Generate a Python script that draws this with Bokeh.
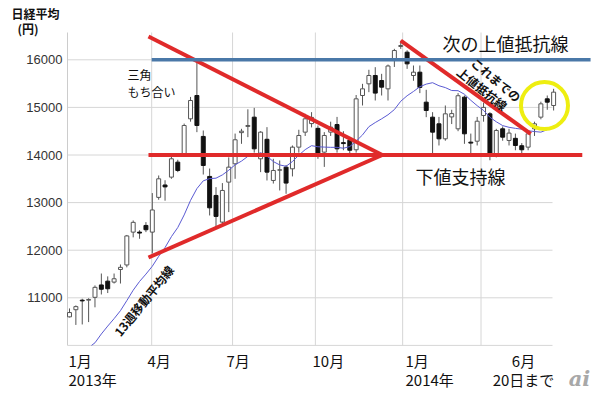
from bokeh.plotting import figure
from bokeh.models import Range1d, Label, ColumnDataSource
from bokeh.embed import file_html
from bokeh.resources import INLINE
from bokeh.core.properties import value

# ---- data: weekly Nikkei average, Jan 2013 - Jun 20, 2014 ----
opens = [10600, 10750, 10950, 10950, 11010, 11270, 11350, 11330, 11595, 11690,
         12380, 12380, 12520, 12380, 13110, 13370, 13535, 13850, 14025, 14760,
         15250, 14390, 13550, 13150, 12590, 13430, 13815, 14470, 14600, 14795,
         13920, 14330, 13465, 13680, 13745, 13710, 14165, 14480, 14660, 14560,
         14060, 14480, 14640, 14260, 14310, 14110, 15250, 15495, 15670, 15565,
         15390, 16000, 16280, 16160, 15670, 15740, 15110, 14795, 14655, 14340,
         14800, 14550, 15215, 14270, 14290, 14830, 14865, 14025, 14550, 14305,
         14350, 14195, 14165, 14550, 14795, 15180, 15040]
highs = [10776, 10840, 10980, 10990, 11260, 11510, 11450, 11510, 11700, 12320,
         12625, 12420, 12590, 13200, 13570, 13470, 14000, 13900, 14660, 15220,
         15942, 14515, 13716, 13325, 13410, 13950, 14450, 14550, 14960, 14990,
         14500, 14585, 13920, 13885, 13790, 14200, 14530, 14865, 14900, 14620,
         14480, 14700, 14800, 14500, 14380, 15260, 15495, 15790, 15845, 15705,
         15900, 16230, 16400, 16200, 15880, 15880, 15370, 14900, 14800, 15040,
         14950, 15300, 15250, 14450, 14800, 15100, 14900, 14550, 14600, 14550,
         14450, 14250, 14500, 14700, 15120, 15250, 15390]
lows = [10587, 10430, 10440, 10490, 10800, 11070, 11100, 11300, 11300, 11640,
        12270, 12240, 12380, 11930, 13060, 13040, 13500, 13640, 13990, 14700,
        14480, 13590, 12730, 12450, 12520, 12800, 13500, 14235, 14375, 14050,
        13640, 13465, 13400, 13255, 13185, 13550, 14050, 14400, 14580, 13920,
        13750, 14400, 14050, 14100, 13990, 14050, 15040, 15320, 15145, 15250,
        15145, 15850, 16230, 15810, 15560, 15300, 14795, 14000, 14200, 14300,
        14650, 14500, 14235, 13990, 14200, 14700, 13890, 13950, 14300, 14200,
        14100, 14000, 14100, 14400, 14750, 14950, 14935]
closes = [10690, 10815, 10935, 10965, 11220, 11180, 11190, 11400, 11640, 12300,
          12585, 12360, 12430, 12845, 13500, 13330, 13920, 13675, 14620, 15145,
          14620, 13780, 12890, 12710, 13255, 13745, 14320, 14500, 14620, 14130,
          14480, 13640, 13675, 13690, 13410, 14165, 14410, 14760, 14790, 14030,
          14410, 14585, 14130, 14240, 14100, 15180, 15390, 15670, 15300, 15425,
          15870, 16195, 16300, 15915, 15740, 15420, 14935, 14480, 14340, 14865,
          14870, 15245, 14445, 14250, 14710, 15000, 14025, 14515, 14375, 14460,
          14200, 14110, 14445, 14655, 15075, 15110, 15320]
ma13 = [9415, 9590, 9737, 9890, 10055, 10240, 10406, 10562, 10730, 10942,
        11160, 11344, 11498, 11663, 11871, 12056, 12285, 12477, 12741, 13046,
        13294, 13458, 13504, 13513, 13582, 13680, 13795, 13872, 13972, 13990,
        14049, 13975, 13862, 13791, 13763, 13863, 13995, 14113, 14196, 14173,
        14166, 14161, 14161, 14142, 14177, 14291, 14422, 14595, 14682, 14760,
        14845, 14954, 15129, 15245, 15335, 15434, 15489, 15519, 15455, 15416,
        15355, 15351, 15276, 15149, 15036, 14937, 14792, 14698, 14618, 14582,
        14560, 14542, 14510, 14493, 14480, 14532, 14615]
weeks = list(range(len(closes)))

y_ticks = [11000, 12000, 13000, 14000, 15000, 16000]
y_tick_labels = ["11000", "12000", "13000", "14000", "15000", "16000"]
grid_levels = [10000, 11000, 12000, 13000, 14000, 15000, 16000]
month_grid = [12.9, 25.6, 38.6, 52.3, 64.6]   # week positions of quarter starts

# trend lines (week index, price)
support_level = 14000
next_resistance_level = 16000
tri_upper_x, tri_upper_y = [12.4, 49.1], [16489, 14000]
tri_lower_x, tri_lower_y = [12.4, 49.1], [11847, 14000]
support_x = [12.4, 80.5]
old_res_x, old_res_y = [52.0, 72.4], [16405, 14445]
next_res_x = [12.9, 81.8]

# ---- helpers: reference pixel -> data coordinates ----
def wx(rx):
    return (rx - 69) / 6.37

def py(ry):
    return 16000 - (ry - 59.3) * 21.008

W, H = 592, 392
p = figure(width=W, height=H, output_backend="svg", toolbar_location=None,
           x_range=Range1d(wx(0), wx(W)), y_range=Range1d(py(H), py(0)),
           min_border=0)
p.outline_line_color = None
p.background_fill_color = "white"
p.border_fill_color = "white"
p.axis.visible = False
p.grid.visible = False

x_left, x_right = wx(67), wx(552)
y_bottom, y_top = 10000, py(32)
GRID = "#d6d6d6"

# plot-area grid and left border
p.segment(x0=[x_left] * len(grid_levels), x1=[x_right] * len(grid_levels),
          y0=grid_levels, y1=grid_levels, line_color=GRID, line_width=1)
p.segment(x0=month_grid, x1=month_grid, y0=[y_bottom] * len(month_grid),
          y1=[y_top] * len(month_grid), line_color=GRID, line_width=1)
p.segment(x0=[x_left], x1=[x_left], y0=[y_bottom], y1=[y_top], line_color="#cccccc", line_width=1)

# y tick labels
p.text(x=[wx(62)] * len(y_ticks), y=y_ticks, text=y_tick_labels,
       text_font=value("Liberation Sans"), text_font_size="13px", text_color="#333333",
       text_align="right", text_baseline="middle")

# candles
up = [i for i in weeks if closes[i] >= opens[i]]
dn = [i for i in weeks if closes[i] < opens[i]]
p.segment(x0=weeks, x1=weeks, y0=lows, y1=highs, line_color="#555555", line_width=1)
src_up = ColumnDataSource(dict(x=up, top=[closes[i] for i in up], bottom=[opens[i] for i in up]))
src_dn = ColumnDataSource(dict(x=dn, top=[opens[i] for i in dn], bottom=[closes[i] for i in dn]))
p.vbar(x="x", top="top", bottom="bottom", width=0.62, source=src_up,
       fill_color="white", line_color="#555555", line_width=1)
p.vbar(x="x", top="top", bottom="bottom", width=0.62, source=src_dn,
       fill_color="#111111", line_color="#111111", line_width=1)

# 13-week moving average (clipped to the plot area's bottom)
ma_w = [w for w in weeks if ma13[w] >= 10000]
p.line([wx(91)] + ma_w, [10000] + [ma13[w] for w in ma_w], line_color="#5a5ad2", line_width=1)

# trend lines
red = "#e02a2a"
p.line(tri_upper_x, tri_upper_y, line_color=red, line_width=4)
p.line(tri_lower_x, tri_lower_y, line_color=red, line_width=4)
p.line(support_x, [support_level, support_level], line_color=red, line_width=4)
p.line(old_res_x, old_res_y, line_color=red, line_width=4)
p.line(next_res_x, [next_resistance_level, next_resistance_level],
       line_color="#4a78a8", line_width=3.5)

# yellow highlight circle
p.scatter([wx(544)], [py(105)], marker="circle", size=47, fill_alpha=0,
          line_color="#eeee10", line_width=4)

JP = "Noto Sans CJK JP"

def lab(text, rx, ry, size, align="left", style="normal", angle=0.0, color="#111111", font=JP):
    p.add_layout(Label(x=wx(rx), y=py(ry), text=text, text_font=font,
                       text_font_size=size, text_font_style=style, text_align=align,
                       text_baseline="middle", angle=angle, text_color=color))

# axis title
lab("日経平均", 11, 13, "12px", style="bold")
lab("(円)", 17, 28, "12px", style="bold")

# x labels
lab("1月", 68, 360, "15px")
lab("2013年", 68, 379, "15px")
lab("4月", 147, 360, "15px")
lab("7月", 226, 360, "15px")
lab("10月", 312, 360, "15px")
lab("1月", 405, 360, "15px")
lab("2014年", 405, 379, "15px")
lab("6月", 523, 360, "15px", align="center")
lab("20日まで", 523, 379, "15px", align="center")

# annotations
lab("三角", 127, 74, "12px")
lab("もち合い", 127, 91, "12px")
lab("次の上値抵抗線", 442, 42, "18px")
lab("下値支持線", 415, 175, "18px")
lab("これまでの", 496, 79, "12px", align="center", style="bold", angle=-0.70)
lab("上値抵抗線", 482, 88, "12px", align="center", style="bold", angle=-0.68)
lab("13週移動平均線", 143, 300, "12px", align="center", style="bold", angle=0.89)

# logo
lab("ai", 579, 378, "21px", align="center", style="bold italic", color="#a8a8a8",
    font="DejaVu Serif")

open("out.html", "w").write(file_html(p, INLINE))
